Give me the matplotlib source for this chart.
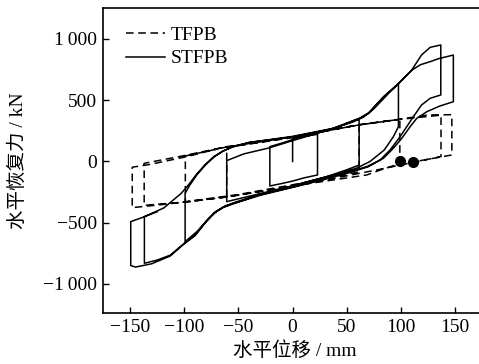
import matplotlib.pyplot as plt

plt.rcParams['font.family'] = ['Liberation Serif', 'Noto Sans CJK SC']
plt.rcParams['axes.unicode_minus'] = True

# STFPB loops, branch by branch (mm, kN); consecutive branches are joined by the vertical jumps
st_start = [(0, 0), (0, 189)]
st_up1 = [(0, 189), (10, 203), (23, 222)]
st_lo1 = [(23, -110), (10, -135), (0, -160), (-10, -180), (-21, -200)]
st_up2 = [(-21, 121), (-10, 150), (0, 178), (20, 225), (40, 275), (61.4, 350)]
st_lo2 = [(61.4, -29), (50, -68), (30, -128), (0, -198), (-30, -262), (-50, -305), (-60.8, -328)]
st_up3 = [(-60.8, 7), (-45, 62), (-22, 110), (0, 170), (30, 250), (55, 320), (65, 360),
          (75, 430), (88, 550), (97.7, 638)]
st_lo3 = [(97.7, 284), (93, 202), (84.6, 94), (71.5, 0), (59, -55), (43.8, -96), (20, -150),
          (0, -200), (-30, -268), (-52, -330), (-62, -362), (-70, -405), (-78, -470), (-88, -570),
          (-99.2, -655)]
st_up4 = [(-99.2, -260), (-95, -195), (-88, -105), (-80, -25), (-72, 40), (-64, 85), (-55, 120),
          (-40, 155), (0, 205), (37.5, 271), (61.4, 352), (70, 395), (84, 529), (97.7, 636),
          (110, 747), (119, 869), (127, 932), (136.8, 951)]
st_lo4 = [(136.8, 543), (127, 516), (119, 461), (111.5, 366), (105.4, 284), (99.2, 202), (90, 94),
          (80.8, 12), (68.5, -42), (53, -83), (30, -140), (0, -208), (-30, -272), (-55, -343),
          (-64, -372), (-72, -415), (-80, -490), (-90, -600), (-100, -668), (-113, -765),
          (-125, -805), (-136.8, -831)]
st_up5 = [(-136.8, -450), (-119, -380), (-103, -262), (-96, -190), (-89, -108), (-81, -28),
          (-73, 38), (-65, 82), (-56, 118), (-40, 156), (0, 200), (37.5, 268), (61.4, 348),
          (70, 392), (84, 527), (97.7, 634), (110, 745), (118, 790), (127, 815), (135, 840),
          (148.4, 869)]
st_lo5 = [(148.4, 488), (136, 453), (124, 407), (114.6, 352), (108.5, 284), (100.8, 189), (93, 108),
          (83.8, 26), (70, -42), (55, -85), (30, -145), (0, -212), (-30, -276), (-55, -346),
          (-64, -376), (-72, -420), (-80, -495), (-90, -605), (-100, -672), (-113, -772),
          (-130, -835), (-145, -862), (-149.4, -850)]
st_up6 = [(-149.4, -491), (-137, -452), (-125, -410)]

# TFPB loops
tf_start = [(-60.8, -290)]
tf_up1 = [(-60.8, 115), (0, 195), (61.4, 300)]
tf_lo1 = [(61.4, -85), (30, -140), (0, -190), (-50, -270), (-99, -328)]
tf_up2 = [(-99, 45), (-61, 118), (0, 200), (61, 298), (99, 344)]
tf_lo2 = [(99, -18), (84, -60), (68.5, -110), (0, -200), (-61, -290), (-98, -330), (-137, -358)]
tf_up3 = [(-137, -15), (-99, 50), (-61, 121), (0, 202), (61, 298), (99, 344), (137, 378)]
tf_lo3 = [(137, 40), (111, -8), (84, -58), (0, -204), (-61, -290), (-98, -330), (-125, -356),
          (-148, -377)]
tf_up4 = [(-148, -47), (-131, -23), (-98, 39), (-67, 108), (0, 200), (61, 300), (99, 345),
          (125, 380), (147, 382)]
tf_lo4 = [(147, 53), (111, -4), (99, -15)]

dot_x = [99.2, 111]
dot_y = [4, -8]

xticks = [-150, -100, -50, 0, 50, 100, 150]
xticklabels = ['\u2212150', '\u2212100', '\u221250', '0', '50', '100', '150']
yticks = [-1000, -500, 0, 500, 1000]
yticklabels = ['\u22121\u2009000', '\u2212500', '0', '500', '1\u2009000']

st_path = st_start + st_up1 + st_lo1 + st_up2 + st_lo2 + st_up3 + st_lo3 + st_up4 + st_lo4 + st_up5 + st_lo5 + st_up6
tf_path = tf_start + tf_up1 + tf_lo1 + tf_up2 + tf_lo2 + tf_up3 + tf_lo3 + tf_up4 + tf_lo4

fig = plt.figure(figsize=(4.79, 3.64), dpi=100)
ax = fig.add_axes([103 / 479, 51 / 364, 384.6 / 479, 305 / 364])

ax.plot([p[0] for p in tf_path], [p[1] for p in tf_path], color='black', lw=1.1,
        dashes=(5, 3), label='TFPB')
ax.plot([p[0] for p in st_path], [p[1] for p in st_path], color='black', lw=1.1,
        label='STFPB')
ax.plot(dot_x, dot_y, 'o', color='black', ms=7)

ax.set_xlim(-175, 180)
ax.set_ylim(-1237, 1253)
ax.set_xticks(xticks)
ax.set_xticklabels(xticklabels)
ax.set_yticks(yticks)
ax.set_yticklabels(yticklabels)
ax.tick_params(direction='in', length=4, width=1, labelsize=14, pad=4, top=False, right=False)
for s in ax.spines.values():
    s.set_linewidth(1.2)

ax.set_xlabel('水平位移 / mm', fontsize=14, labelpad=4)
ax.set_ylabel('水平恢复力 / kN', fontsize=14, labelpad=12)

ax.legend(loc='upper left', frameon=False, fontsize=14, handlelength=2.0,
          borderaxespad=0, labelspacing=0.3, handletextpad=0.3, borderpad=0,
          bbox_to_anchor=(0.06, 0.94))

fig.savefig('out.png', dpi=100)
